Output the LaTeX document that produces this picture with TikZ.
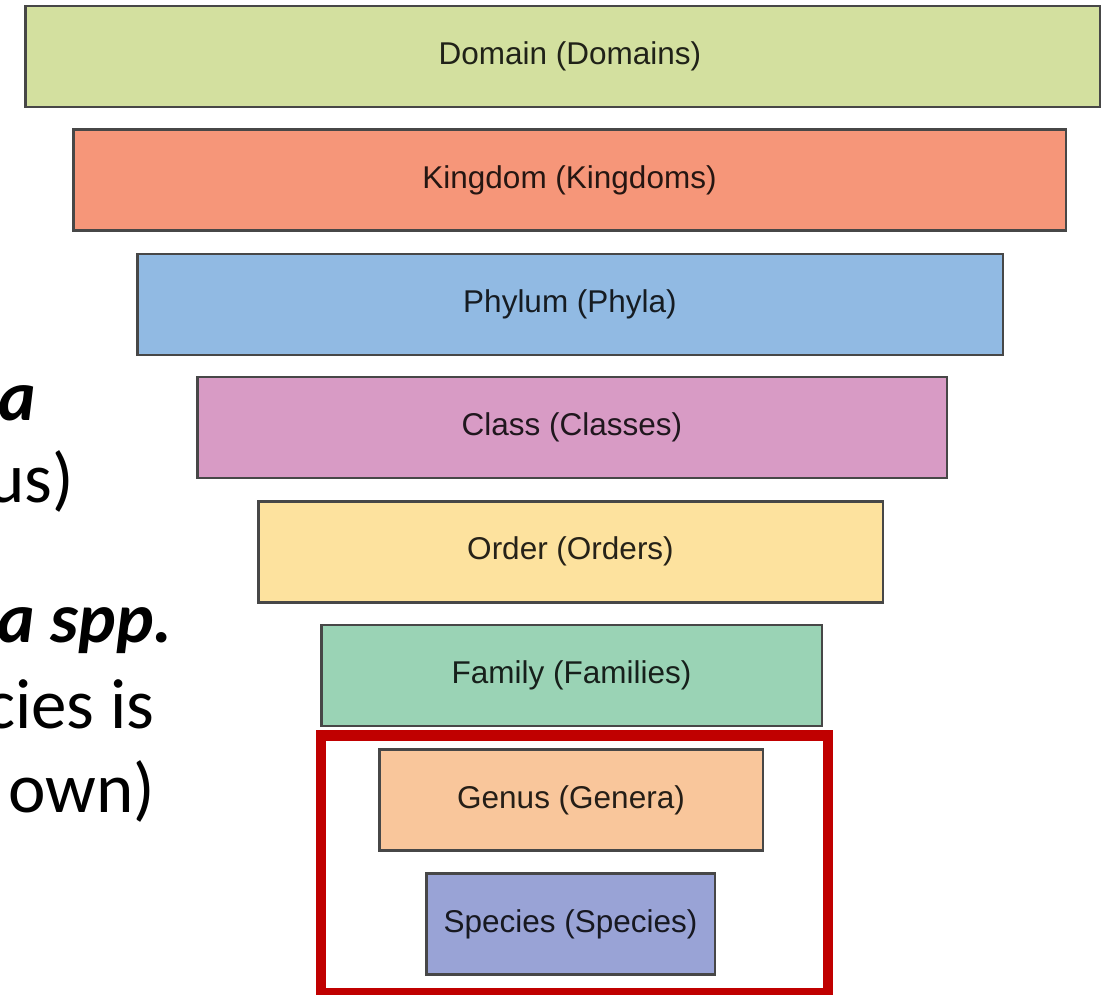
\documentclass[tikz,border=0pt]{standalone}
\usepackage{fontspec}
\setmainfont{Liberation Sans}
\newfontfamily\notefont{Carlito}

% fills of the taxonomic ranks
\definecolor{cDomain}{HTML}{D3E09F}
\definecolor{cKingdom}{HTML}{F69679}
\definecolor{cPhylum}{HTML}{91BAE3}
\definecolor{cClass}{HTML}{D89BC5}
\definecolor{cOrder}{HTML}{FDE29E}
\definecolor{cFamily}{HTML}{9AD3B5}
\definecolor{cGenus}{HTML}{F9C69B}
\definecolor{cSpecies}{HTML}{99A3D6}
\definecolor{frameRed}{HTML}{C00000}

\tikzset{
  rankbar/.style={draw=black!72, line width=2.5pt, inner sep=0pt, outer sep=0pt,
    minimum height=101pt},
  ranklabel/.style={font=\fontsize{31.5}{37}\selectfont, inner sep=0pt},
  notetext/.style={font=\notefont\fontsize{71}{85}\selectfont, anchor=base east,
    inner sep=0pt},
  noteemph/.style={notetext, font=\notefont\bfseries\itshape\fontsize{71}{85}\selectfont},
}

\begin{document}
\begin{tikzpicture}[x=1pt, y=-1pt]
  \useasboundingbox (0,0) rectangle (1102,994);
  \clip (0,0) rectangle (1102,994);

  % the ranks, from broadest to narrowest
  \node[rankbar, fill=cDomain,  minimum width=1074.5pt] (domain)  at (562.5, 56.5) {};
  \node[rankbar, fill=cKingdom, minimum width=992.5pt]  (kingdom) at (569.5,180.0) {};
  \node[rankbar, fill=cPhylum,  minimum width=865.5pt]  (phylum)  at (570.0,304.5) {};
  \node[rankbar, fill=cClass,   minimum width=749.5pt]  (class)   at (572.0,427.5) {};
  \node[rankbar, fill=cOrder,   minimum width=624.5pt]  (order)   at (570.5,551.8) {};
  \node[rankbar, fill=cFamily,  minimum width=500.5pt]  (family)  at (571.5,675.3) {};
  \node[rankbar, fill=cGenus,   minimum width=383.5pt]  (genus)   at (571.0,800.0) {};
  \node[rankbar, fill=cSpecies, minimum width=288.5pt]  (species) at (570.5,924.0) {};

  % rank names
  \node[ranklabel, text=cDomain!15!black]  (domainText)  at (570,56.5)        {Domain (Domains)};
  \node[ranklabel, text=cKingdom!15!black] (kingdomText) at (kingdom.center) {Kingdom (Kingdoms)};
  \node[ranklabel, text=cPhylum!15!black]  (phylumText)  at (phylum.center)  {Phylum (Phyla)};
  \node[ranklabel, text=cClass!15!black]   (classText)   at (class.center)   {Class (Classes)};
  \node[ranklabel, text=cOrder!15!black]   (orderText)   at (order.center)   {Order (Orders)};
  \node[ranklabel, text=cFamily!15!black]  (familyText)  at (family.center)  {Family (Families)};
  \node[ranklabel, text=cGenus!15!black]   (genusText)   at (genus.center)   {Genus (Genera)};
  \node[ranklabel, text=cSpecies!15!black] (speciesText) at (species.center) {Species (Species)};

  % highlight around genus and species
  \node[draw=frameRed, line width=10.5pt, inner sep=0pt, outer sep=0pt,
        minimum width=507pt, minimum height=257.5pt] (focus) at (574.5,864.3) {};

  % side notes
  \node[noteemph] (noteA)    at (36,420)  {a};
  \node[notetext] (noteB)    at (74,502)  {us)};
  \node[noteemph] (noteC)    at (173,642) {a spp.};
  \node[notetext] (noteD)    at (155,728) {cies is};
  \node[notetext] (noteE)    at (155,812) {own)};
\end{tikzpicture}
\end{document}
